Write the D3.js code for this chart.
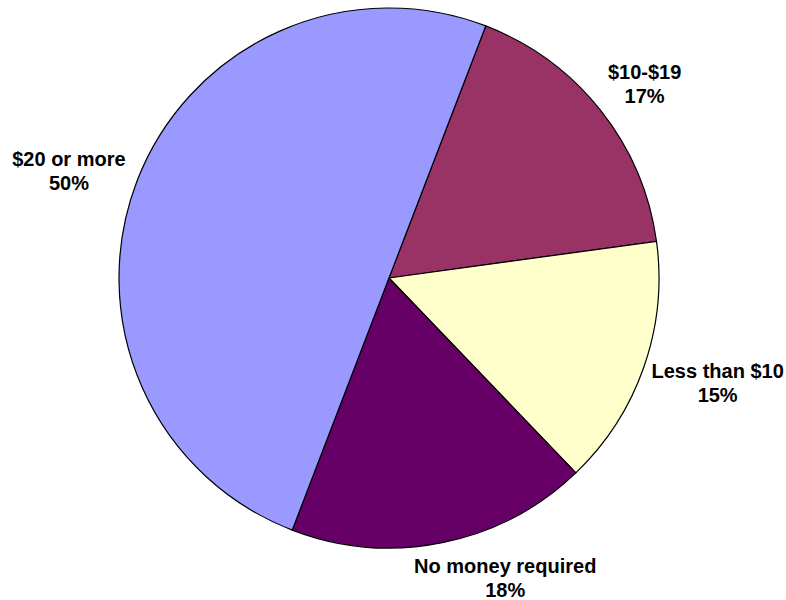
<!DOCTYPE html>
<html>
<head>
<meta charset="utf-8">
<script src="https://cdn.jsdelivr.net/npm/d3@7"></script>
<style>
  html, body { margin: 0; padding: 0; background: #ffffff; }
  svg { display: block; }
  text { font-family: "Liberation Sans", Arial, sans-serif; font-weight: bold; fill: #000; }
</style>
</head>
<body>
<div id="chart"></div>
<script>
// Spending categories, in drawing order (clockwise)
const categories = ["$10-$19", "Less than $10", "No money required", "$20 or more"];
const shares = [17, 15, 18, 50];
const sliceColors = ["#993366", "#FFFFCC", "#660066", "#9999FF"];

const width = 786, height = 600;
const cx = 389, cy = 278, radius = 270;

// Rotation of the first slice, in degrees clockwise from 12 o'clock
const firstSliceAngle = 21;

// Fine adjustments for the outside labels, relative to the label arc
const labelNudge = {
  "$10-$19": [-3, 6],
  "Less than $10": [17, -9],
  "No money required": [51, -28],
  "$20 or more": [-12, 6]
};

const data = categories.map((c, i) => ({ category: c, value: shares[i], color: sliceColors[i] }));

const svg = d3.select("#chart").append("svg")
  .attr("width", width)
  .attr("height", height);

const g = svg.append("g").attr("transform", `translate(${cx},${cy})`);

const pie = d3.pie()
  .sort(null)
  .value(d => d.value)
  .startAngle(firstSliceAngle * Math.PI / 180)
  .endAngle(firstSliceAngle * Math.PI / 180 + 2 * Math.PI);

const arc = d3.arc().innerRadius(0).outerRadius(radius);
const labelArc = d3.arc().innerRadius(330).outerRadius(330);

const arcs = pie(data);

g.selectAll("path.slice")
  .data(arcs)
  .join("path")
  .attr("class", "slice")
  .attr("d", arc)
  .attr("fill", d => d.data.color)
  .attr("stroke", "#000")
  .attr("stroke-width", 1.2)
  .attr("stroke-linejoin", "round");

const pct = d3.format(".0%");

const labels = g.selectAll("text.label")
  .data(arcs)
  .join("text")
  .attr("class", "label")
  .attr("text-anchor", "middle")
  .style("font-size", "20px")
  .attr("transform", d => {
    const [x, y] = labelArc.centroid(d);
    const [dx, dy] = labelNudge[d.data.category];
    return `translate(${x + dx},${y + dy})`;
  });

labels.append("tspan")
  .attr("x", 0)
  .attr("y", 0)
  .text(d => d.data.category);

labels.append("tspan")
  .attr("x", 0)
  .attr("y", 24)
  .text(d => pct(d.data.value / 100));
</script>
</body>
</html>
